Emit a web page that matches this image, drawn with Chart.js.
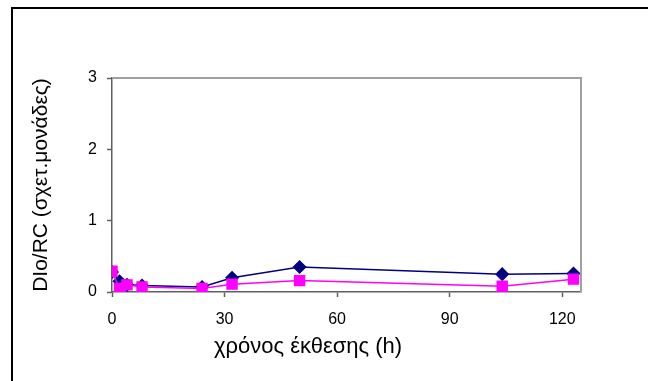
<!DOCTYPE html>
<html>
<head>
<meta charset="utf-8">
<script src="https://cdn.jsdelivr.net/npm/chart.js@4"></script>
<style>
  html, body { margin: 0; padding: 0; background: #fff; }
  #wrap { width: 648px; height: 381px; }
</style>
</head>
<body>
<div id="wrap"><canvas id="chart" width="648" height="381"></canvas></div>
<script>
// exposure time (h) and DIo/RC values
const hours = [0, 2, 4, 8, 24, 32, 50, 104, 123];
const seriesBlue = [0.28, 0.15, 0.10, 0.09, 0.07, 0.20, 0.35, 0.25, 0.26];
const seriesPink = [0.29, 0.05, 0.10, 0.07, 0.05, 0.11, 0.16, 0.08, 0.18];
const xTicks = [0, 30, 60, 90, 120];
const yTicks = [0, 1, 2, 3];
const xTitle = 'χρόνος έκθεσης (h)';
const yTitle = 'DIo/RC (σχετ.μονάδες)';

const toPoints = (ys) => hours.map((h, i) => ({ x: h, y: ys[i] }));
const fam = 'Liberation Sans, Arial, sans-serif';

// outer frame, grey top/right plot border, and the x title (sits left of plot centre)
const frame = {
    id: 'frame',
    beforeDraw(chart) {
        const c = chart.ctx;
        c.save();
        c.fillStyle = '#fff';
        c.fillRect(0, 0, chart.width, chart.height);
        c.strokeStyle = '#000';
        c.lineWidth = 2;
        c.beginPath();
        c.moveTo(12, chart.height);
        c.lineTo(12, 8);
        c.lineTo(chart.width, 8);
        c.stroke();
        c.restore();
    },
    afterDatasetsDraw(chart) {
        const c = chart.ctx;
        const a = chart.chartArea;
        c.save();
        c.strokeStyle = '#a0a0a0';
        c.lineWidth = 2;
        c.beginPath();
        c.moveTo(a.left, a.top);
        c.lineTo(a.right, a.top);
        c.lineTo(a.right, a.bottom);
        c.stroke();
        c.fillStyle = '#000';
        c.font = '22px ' + fam;
        c.textAlign = 'center';
        c.textBaseline = 'middle';
        c.fillText(xTitle, 308, 347);
        c.restore();
    }
};

const font = { family: fam, size: 16 };

new Chart(document.getElementById('chart'), {
    type: 'line',
    data: {
        datasets: [
            {
                data: toPoints(seriesBlue),
                borderColor: '#000080',
                backgroundColor: '#000080',
                borderWidth: 1.5,
                pointStyle: 'rectRot',
                pointRadius: 6,
                order: 2
            },
            {
                data: toPoints(seriesPink),
                borderColor: '#ff00ff',
                backgroundColor: '#ff00ff',
                borderWidth: 1.5,
                pointStyle: 'rect',
                pointRadius: 7,
                order: 1
            }
        ]
    },
    options: {
        responsive: false,
        animation: false,
        layout: { padding: { top: 78, right: 67, left: 0, bottom: 0 } },
        plugins: {
            legend: { display: false },
            tooltip: { enabled: false }
        },
        scales: {
            x: {
                type: 'linear',
                min: 0,
                max: 125,
                afterBuildTicks: (s) => { s.ticks = xTicks.map(v => ({ value: v })); },
                afterFit: (s) => { s.height = 381 - 292; },
                border: { color: '#606060', width: 1.5 },
                grid: { drawOnChartArea: false, tickLength: 5, tickColor: '#606060', tickWidth: 1.5 },
                ticks: { color: '#000', font: font, padding: 13, maxRotation: 0 }
            },
            y: {
                min: 0,
                max: 3,
                afterBuildTicks: (s) => { s.ticks = yTicks.map(v => ({ value: v })); },
                afterFit: (s) => { s.width = 112; },
                border: { color: '#606060', width: 1.5 },
                grid: { drawOnChartArea: false, tickLength: 5, tickColor: '#606060', tickWidth: 1.5 },
                ticks: { color: '#000', font: font, padding: 10 },
                title: {
                    display: true,
                    text: yTitle,
                    color: '#000',
                    font: { family: fam, size: 21 },
                    padding: { top: 29, bottom: 0 }
                }
            }
        }
    },
    plugins: [frame]
});
</script>
</body>
</html>
